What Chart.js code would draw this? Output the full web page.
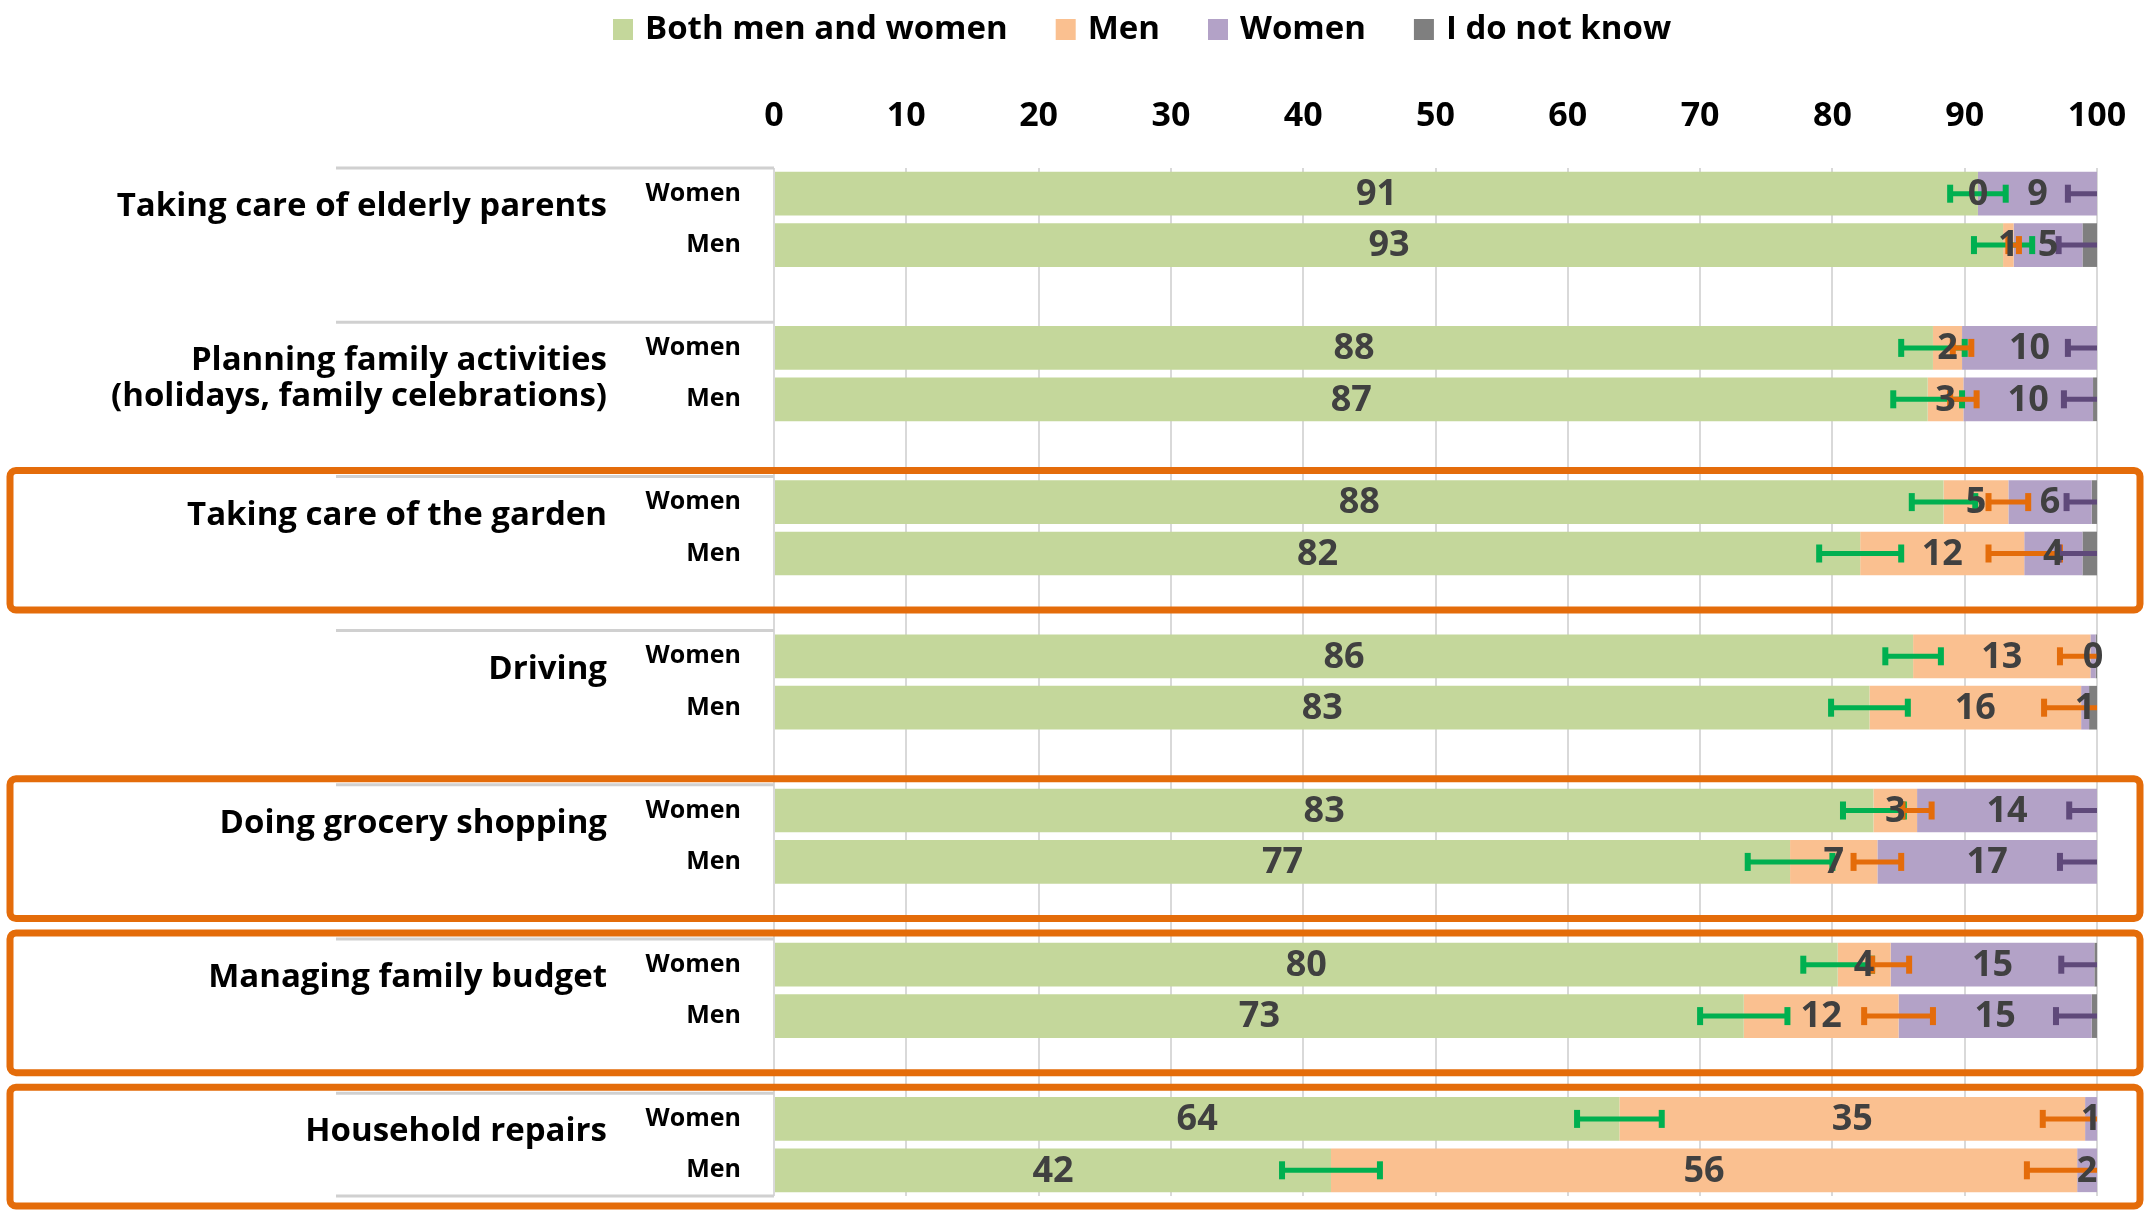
<!DOCTYPE html>
<html>
<head>
<meta charset="utf-8">
<title>Who does it in the household</title>
<script src="https://cdn.jsdelivr.net/npm/chart.js"></script>
<style>
  html, body { margin: 0; padding: 0; background: #ffffff; }
  #wrap { position: relative; width: 2151px; height: 1211px; }
</style>
</head>
<body>
<div id="wrap"><canvas id="chart" width="2151" height="1211"></canvas></div>
<script>
// categories
const tasks = [
  'Taking care of elderly parents',
  ['Planning family activities', '(holidays, family celebrations)'],
  'Taking care of the garden',
  'Driving',
  'Doing grocery shopping',
  'Managing family budget',
  'Household repairs'
];
const respondents = ['Women', 'Men'];
const answers = ['Both men and women', 'Men', 'Women', 'I do not know'];
const xTicks = [0, 10, 20, 30, 40, 50, 60, 70, 80, 90, 100];
const highlightedTasks = [2, 4, 5, 6];

// shares (%) per task, answers of women / of men
const bothWomen  = [91.0, 87.6, 88.4, 86.1, 83.1, 80.4, 63.9];
const bothMen    = [92.9, 87.2, 82.1, 82.8, 76.8, 73.3, 42.1];
const menWomen   = [0.0, 2.2, 4.9, 13.4, 3.3, 4.0, 35.2];
const menMen     = [0.8, 2.7, 12.4, 16.0, 6.6, 11.7, 56.4];
const womenWomen = [9.0, 10.2, 6.3, 0.4, 13.6, 15.4, 0.9];
const womenMen   = [5.2, 9.8, 4.4, 0.6, 16.6, 14.6, 1.5];
const dkWomen    = [0.0, 0.0, 0.4, 0.1, 0.0, 0.2, 0.0];
const dkMen      = [1.1, 0.3, 1.1, 0.6, 0.0, 0.4, 0.0];

// error bar half widths (percentage points)
const errBothWomen  = [2.1, 2.4, 2.4, 2.1, 2.3, 2.6, 3.2];
const errBothMen    = [2.2, 2.6, 3.1, 2.9, 3.2, 3.3, 3.7];
const errMenWomen   = [0.0, 0.7, 1.5, 2.3, 1.1, 1.4, 3.2];
const errMenMen     = [0.4, 1.0, 2.7, 2.8, 1.8, 2.6, 3.8];
const errWomenWomen = [2.2, 2.2, 1.9, 0.0, 2.1, 2.5, 0.0];
const errWomenMen   = [1.8, 2.2, 1.8, 0.0, 2.8, 2.7, 0.0];

const fillColors = ['#C4D79B', '#FAC090', '#B3A2C7', '#7F7F7F'];
const errColors = ['#00B050', '#E46C0A', '#5F497A'];
const FONT = "'Open Sans', 'Noto Sans', sans-serif";

// every task gets a Women slot, a Men slot and an empty spacer slot (not after the last one)
const slotLabels = [];
tasks.forEach((t, i) => {
  respondents.forEach(r => slotLabels.push(r));
  if (i < tasks.length - 1) slotLabels.push('');
});

function toSlots(womenVals, menVals) {
  const out = [];
  tasks.forEach((t, i) => {
    out.push(womenVals[i], menVals[i]);
    if (i < tasks.length - 1) out.push(null);
  });
  return out;
}

const seriesData = [
  toSlots(bothWomen, bothMen),
  toSlots(menWomen, menMen),
  toSlots(womenWomen, womenMen),
  toSlots(dkWomen, dkMen)
];
const errorData = [
  toSlots(errBothWomen, errBothMen),
  toSlots(errMenWomen, errMenMen),
  toSlots(errWomenWomen, errWomenMen)
];

const overlay = {
  id: 'overlay',
  afterDatasetsDraw(chart) {
    const { ctx, chartArea: area, scales: { x } } = chart;

    // error bars at the end of each segment, clipped at 100
    ctx.save();
    ctx.beginPath();
    ctx.rect(area.left, area.top - 30, area.right - area.left, area.bottom - area.top + 60);
    ctx.clip();
    errorData.forEach((errs, d) => {
      const meta = chart.getDatasetMeta(d);
      meta.data.forEach((bar, i) => {
        const e = errs[i];
        if (e == null || e === 0) return;
        const endVal = x.getValueForPixel(bar.x);
        const l = x.getPixelForValue(endVal - e);
        const r = x.getPixelForValue(endVal + e);
        ctx.strokeStyle = errColors[d];
        ctx.fillStyle = errColors[d];
        ctx.lineWidth = 5;
        ctx.beginPath();
        ctx.moveTo(l, bar.y);
        ctx.lineTo(r, bar.y);
        ctx.stroke();
        ctx.fillRect(l - 3, bar.y - 9, 6, 18);
        ctx.fillRect(r - 3, bar.y - 9, 6, 18);
      });
    });
    ctx.restore();

    // value labels
    ctx.save();
    ctx.font = 'bold 36px ' + FONT;
    ctx.fillStyle = '#404040';
    ctx.textAlign = 'center';
    ctx.textBaseline = 'middle';
    for (let d = 0; d < 3; d++) {
      const meta = chart.getDatasetMeta(d);
      meta.data.forEach((bar, i) => {
        const v = chart.data.datasets[d].data[i];
        if (v == null) return;
        ctx.fillText(String(Math.round(v)), (bar.x + bar.base) / 2, bar.y + 1);
      });
    }
    ctx.restore();
  },
  afterDraw(chart) {
    const { ctx, chartArea: area, scales: { y } } = chart;
    const slotH = (area.bottom - area.top) / slotLabels.length;

    ctx.save();
    // separators on the left of the plot
    ctx.strokeStyle = '#D0D0D0';
    ctx.lineWidth = 3;
    const seps = tasks.map((t, k) => y.getPixelForValue(k * 3) - slotH / 2);
    seps.concat([area.bottom]).forEach(sy => {
      ctx.beginPath();
      ctx.moveTo(336, sy);
      ctx.lineTo(area.left, sy);
      ctx.stroke();
    });

    // task labels
    ctx.font = 'bold 33px ' + FONT;
    ctx.fillStyle = '#000000';
    ctx.textAlign = 'right';
    ctx.textBaseline = 'middle';
    tasks.forEach((t, k) => {
      const lines = Array.isArray(t) ? t : [t];
      const y0 = y.getPixelForValue(k * 3) + 13;
      lines.forEach((line, j) => ctx.fillText(line, 607, y0 + j * 36));
    });

    // highlight boxes
    ctx.strokeStyle = '#E46C0A';
    ctx.lineWidth = 7;
    highlightedTasks.forEach(k => {
      const top = seps[k] - 6;
      const bottom = Math.min(seps[k] + slotH * 2.6, chart.height - 5);
      ctx.beginPath();
      ctx.roundRect(10, top, 2130, bottom - top, 6);
      ctx.stroke();
    });

    // legend
    ctx.font = 'bold 33px ' + FONT;
    ctx.textAlign = 'left';
    let lx = 613;
    answers.forEach((a, i) => {
      ctx.fillStyle = fillColors[i];
      ctx.fillRect(lx, 19, 20, 21);
      ctx.fillStyle = '#000000';
      ctx.fillText(a, lx + 32, 30);
      lx += 32 + ctx.measureText(a).width + 48;
    });
    ctx.restore();
  }
};

function build() {
  Chart.defaults.font.family = FONT;
  new Chart(document.getElementById('chart'), {
    type: 'bar',
    data: {
      labels: slotLabels,
      datasets: answers.map((a, i) => ({
        label: a,
        data: seriesData[i],
        backgroundColor: fillColors[i],
        borderWidth: 0,
        barPercentage: 0.85,
        categoryPercentage: 1.0,
        stack: 'all'
      }))
    },
    options: {
      indexAxis: 'y',
      responsive: false,
      animation: false,
      devicePixelRatio: 1,
      layout: { padding: { left: 0, right: 54, top: 0, bottom: 15 } },
      plugins: { legend: { display: false }, tooltip: { enabled: false } },
      scales: {
        x: {
          position: 'top',
          stacked: true,
          min: 0,
          max: 100,
          afterBuildTicks: s => { s.ticks = xTicks.map(v => ({ value: v })); },
          afterFit: s => { s.height = 168; s.paddingLeft = 0; s.paddingRight = 0; },
          grid: { color: '#D9D9D9', lineWidth: 2, drawTicks: false },
          border: { display: false },
          ticks: { padding: 31, color: '#000000', font: { size: 34, weight: 'bold' } }
        },
        y: {
          stacked: true,
          afterFit: s => { s.width = 774; s.paddingTop = 0; s.paddingBottom = 0; },
          grid: { display: false, drawTicks: false },
          border: { display: false },
          ticks: { autoSkip: false, padding: 33, color: '#000000', font: { size: 25, weight: 'bold' } }
        }
      }
    },
    plugins: [overlay]
  });
}

Promise.all([
  document.fonts.load('bold 34px "Open Sans"'),
  document.fonts.load('bold 25px "Open Sans"')
]).then(build, build);
</script>
</body>
</html>
